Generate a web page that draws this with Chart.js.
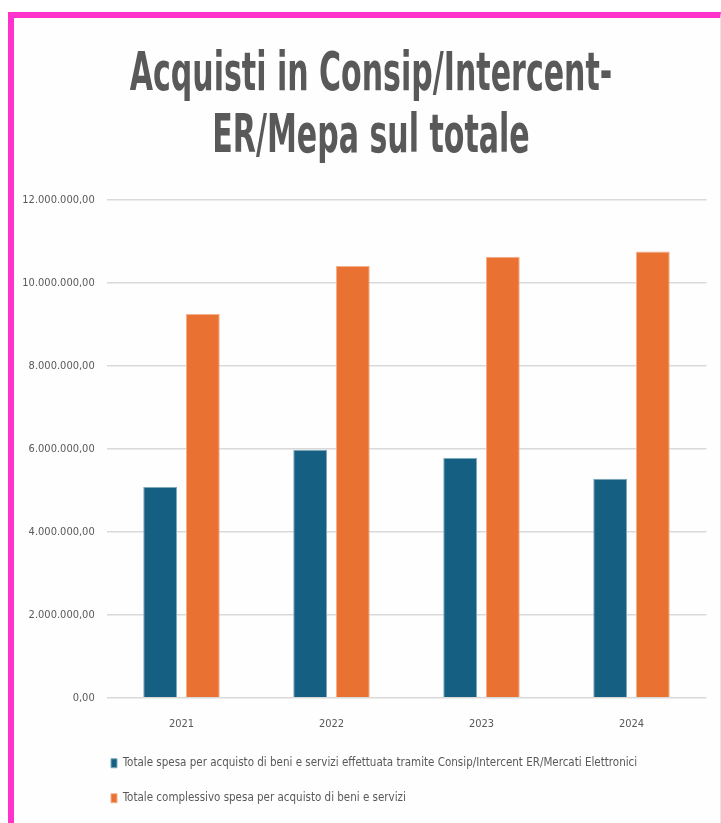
<!DOCTYPE html>
<html>
<head>
<meta charset="utf-8">
<script src="https://cdn.jsdelivr.net/npm/chart.js@4/dist/chart.umd.min.js"></script>
<style>
  html, body { margin: 0; padding: 0; background: #ffffff; overflow: hidden; }
  #frame {
    position: absolute; left: 8px; top: 12px; width: 706px; height: 830px;
    border-top: 6px solid #ff33cc; border-left: 6px solid #ff33cc;
    border-right: 1px solid #e6e6e6;
    background: #fefefe;
  }
  #c { position: absolute; left: 0; top: 0; }
</style>
</head>
<body>
<div id="frame"><canvas id="c" width="706" height="799"></canvas></div>
<script>
// ---- data ----
const titleLines = ["Acquisti in Consip/Intercent-", "ER/Mepa sul totale"];
const categories = ["2021", "2022", "2023", "2024"];
const seriesNames = [
  "Totale spesa per acquisto di beni e servizi effettuata tramite Consip/Intercent ER/Mercati Elettronici",
  "Totale complessivo spesa per acquisto di beni e servizi"
];
const consipValues = [5080000, 5980000, 5780000, 5280000];
const totalValues = [9250000, 10410000, 10630000, 10760000];
const yTicks = [0, 2000000, 4000000, 6000000, 8000000, 10000000, 12000000];
const yTickLabels = ["0,00", "2.000.000,00", "4.000.000,00", "6.000.000,00", "8.000.000,00", "10.000.000,00", "12.000.000,00"];

// ---- styles ----
const NARROW = "'Liberation Sans Narrow', 'Arial Narrow', 'DejaVu Sans Condensed', sans-serif";
const TEXT = "#595959";

const titlePlugin = {
  id: 'condensedTitle',
  afterDraw(chart) {
    const ctx = chart.ctx;
    ctx.save();
    ctx.fillStyle = TEXT;
    ctx.font = "bold 53px " + NARROW;
    ctx.textAlign = 'center';
    ctx.textBaseline = 'alphabetic';
    const baselines = [72, 134];
    titleLines.forEach((t, i) => {
      ctx.save();
      ctx.translate(357, baselines[i]);
      ctx.scale(0.63, 1);
      ctx.fillText(t, 0, 0);
      ctx.restore();
    });
    ctx.restore();
  }
};

const legendShift = {
  id: 'legendShift',
  afterLayout(chart) {
    if (chart.legend) {
      chart.legend.left += 73.5;
      chart.legend.right += 73.5;
    }
  }
};

new Chart(document.getElementById('c'), {
  type: 'bar',
  data: {
    labels: categories,
    datasets: [
      {
        label: seriesNames[0],
        data: consipValues,
        backgroundColor: '#156082',
        borderColor: '#7fa9bd',
        borderWidth: 1,
        categoryPercentage: 0.57,
        barPercentage: 0.79
      },
      {
        label: seriesNames[1],
        data: totalValues,
        backgroundColor: '#E97132',
        borderColor: '#f4b08c',
        borderWidth: 1,
        categoryPercentage: 0.57,
        barPercentage: 0.79
      }
    ]
  },
  options: {
    responsive: false,
    animation: false,
    devicePixelRatio: 1,
    layout: { padding: { top: 182, left: 0, right: 13.5, bottom: 3 } },
    plugins: {
      title: { display: false },
      tooltip: { enabled: false },
      legend: {
        display: true,
        position: 'bottom',
        align: 'start',
        labels: {
          boxWidth: 6,
          boxHeight: 9,
          padding: 23.5,
          color: TEXT,
          font: { family: NARROW, size: 11.5 }
        }
      }
    },
    scales: {
      x: {
        grid: { display: false },
        border: { display: false },
        ticks: { color: TEXT, padding: 11.5, font: { family: NARROW, size: 11 } },
        afterFit(scale) { scale.height = 36.25; }
      },
      y: {
        min: 0,
        max: 12000000,
        afterBuildTicks(scale) { scale.ticks = yTicks.map(v => ({ value: v })); },
        ticks: {
          color: TEXT,
          padding: 11.8,
          font: { family: NARROW, size: 11 },
          callback: (v) => yTickLabels[yTicks.indexOf(v)]
        },
        grid: { color: '#d9d9d9', lineWidth: 1.5, drawTicks: false },
        border: { display: false },
        afterFit(scale) { scale.width = 92.5; }
      }
    }
  },
  plugins: [titlePlugin, legendShift]
});
</script>
</body>
</html>
